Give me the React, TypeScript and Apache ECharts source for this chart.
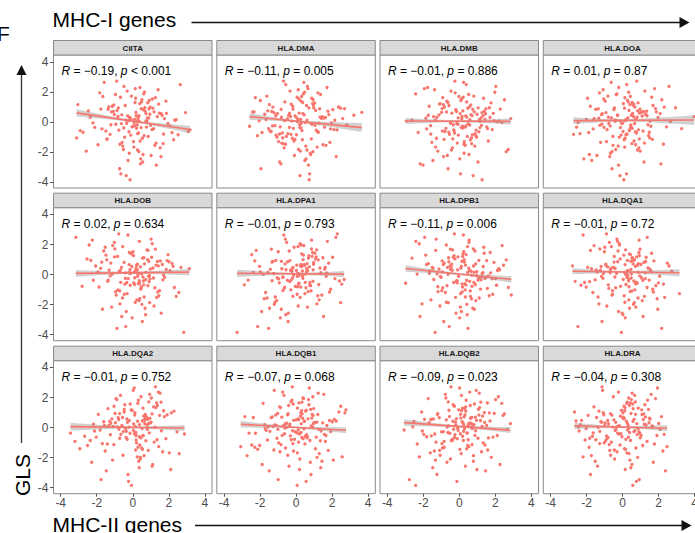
import React, { useEffect, useRef } from "react";
import * as echarts from "echarts";

const FONT = '"Liberation Sans", Arial, Helvetica, sans-serif';

const genes = ["CIITA", "HLA.DMA", "HLA.DMB", "HLA.DOA", "HLA.DOB", "HLA.DPA1", "HLA.DPB1", "HLA.DQA1", "HLA.DQA2", "HLA.DQB1", "HLA.DQB2", "HLA.DRA"];
const rValues = [-0.19, -0.11, -0.01, 0.01, 0.02, -0.01, -0.11, -0.01, -0.01, -0.07, -0.09, -0.04];
const pOps = ["<", "=", "=", "=", "=", "=", "=", "=", "=", "=", "=", "="];
const pValues = ["0.001", "0.005", "0.886", "0.87", "0.634", "0.793", "0.006", "0.72", "0.752", "0.068", "0.023", "0.308"];
const xTicks = [-4, -2, 0, 2, 4];
const yTicks = [-4, -2, 0, 2, 4];

// fitted regression line end points per panel
const fitX0 = [-3.12, -2.58, -2.94, -2.72, -3.16, -3.27, -2.98, -2.78, -3.46, -3.07, -3.06, -2.67];
const fitX1 = [3.18, 3.65, 2.86, 3.97, 3.14, 2.67, 2.89, 3.16, 2.87, 2.77, 2.84, 2.47];
const fitY0 = [0.6, 0.35, 0.06, 0.08, 0.08, 0.08, 0.4, 0.22, 0.06, 0.22, 0.33, 0.11];
const fitY1 = [-0.51, -0.38, 0.03, 0.12, 0.16, 0.03, -0.32, 0.12, -0.03, -0.18, -0.17, -0.04];
// confidence band half widths (left end, centre, right end)
const bandLeft = [0.24, 0.22, 0.2, 0.22, 0.22, 0.24, 0.22, 0.2, 0.26, 0.22, 0.22, 0.2];
const bandMid = [0.07, 0.07, 0.07, 0.07, 0.07, 0.07, 0.07, 0.07, 0.07, 0.07, 0.07, 0.07];
const bandRight = [0.24, 0.3, 0.2, 0.32, 0.22, 0.2, 0.22, 0.24, 0.2, 0.2, 0.2, 0.2];

// GLS (shared y values)
const gls = [
  0.42, -1.13, 0.87, -0.25, 1.64, -2.31, 0.08, 0.55, -0.71, 1.12, -0.38, 2.05, -1.56, 0.31, -0.04,
  0.76, -0.92, 1.38, -3.85, 0.19, -0.47, 0.98, -1.84, 0.63, 2.48, -0.16, -1.27, 0.35, 1.71, -0.58,
  -2.67, 0.12, 0.91, -0.83, 1.26, -0.29, 0.47, -1.45, 1.93, 0.02, -0.64, -2.09, 0.71, 1.04, -0.21,
  0.58, -1.02, 2.21, -0.37, 0.26, -3.12, 1.47, -0.11, 0.83, -1.68, 0.39, -0.52, 1.15, -2.46, 0.05,
  1.82, -0.74, 0.14, -1.36, 0.67, 2.63, -0.43, 0.94, -0.88, 0.22, -1.95, 1.33, -0.09, 0.51, -2.88,
  0.36, 1.57, -0.61, -1.19, 0.81, -0.33, 2.14, -1.52, 0.07, 1.09, -0.78, 0.44, -3.46, 0.62, -0.19,
  1.21, -0.97, 0.29, -2.24, 0.73, 1.86, -0.55, -1.41, 0.17, 0.99, -0.27, 2.36, -1.09, 0.48, -1.73,
  0.03, -0.69, 1.42, -2.57, 0.57, -0.12, 0.88, -1.31, 1.69, -0.45, 0.24, -0.86, 2.71, -1.98, 0.66,
  -0.35, 1.18, -1.61, 0.41, -0.07, 1.52, -2.79, 0.93, -0.53, 0.15, 1.97, -1.16, 0.32, -0.81, -3.58,
  0.69, -0.23, 1.29, -1.49, 0.11, 0.85, -2.17, 1.61, -0.66, 0.27, -1.07, 2.29, -0.41, 0.54, -1.87,
];

const xCIITA = [
  0.35, -1.42, 0.91, 0.12, -0.68, 1.57, -0.23, 0.74, 2.18, -1.05, 0.46, -0.31, 1.23, -2.36, 0.08,
  -0.87, 0.63, 1.84, -0.15, 0.29, -1.71, 0.97, -0.52, 0.18, 2.64, -0.94, 0.41, 1.36, -0.07, -2.92,
  0.55, -0.38, 1.12, -1.26, 0.83, 0.02, -0.61, 1.69, -1.83, 0.37, 3.08, -0.19, 0.69, -1.14, 0.25,
  1.48, -0.45, 0.14, -2.11, 0.88, -0.73, 0.51, 1.95, -1.37, 0.06, -0.28, 1.07, -3.05, 0.44, 0.79,
  -0.96, 0.32, 2.41, -0.59, 1.18, -1.58, 0.21, 0.67, -0.11, 1.76, -2.58, 0.49, -0.34, 0.95, 1.31,
  -0.82, 0.16, -1.49, 2.27, 0.58, -0.04, 1.41, -1.93, 0.73, -0.42, 0.27, 1.63, -0.66, 2.93, -1.21,
  0.39, 0.86, -0.17, 1.02, -2.47, 0.61, -0.77, 1.29, 0.1, -1.33, 2.06, -0.49, 0.53, -1.02, 1.52,
  0.23, -2.76, 0.92, -0.26, 1.87, -0.63, 0.47, 0.04, -1.66, 1.16, -0.13, 2.52, -0.89, 0.34, -1.18,
  0.76, 1.44, -0.55, 0.19, -2.21, 1.09, 0.43, -0.8, 3.18, -0.09, 0.65, -1.44, 0.3, 1.71, -0.36,
  -1.08, 0.99, 0.13, -0.71, 2.33, -1.77, 0.57, 1.26, -0.21, 0.81, -3.12, 0.4, -0.5, 1.58, 0.26,
];
const xDMA = [
  -0.42, 0.85, 1.31, -1.17, 0.06, 2.23, -0.64, 0.38, -1.89, 0.97, 0.21, -0.33, 1.66, -0.81, 0.52,
  1.09, -2.14, 0.27, 0.73, -0.48, 1.92, -1.29, 0.14, 3.65, -0.57, 0.89, -0.12, 1.45, -1.62, 0.33,
  -0.91, 0.61, 2.47, -0.28, 1.03, -2.58, 0.45, -0.71, 1.21, 0.08, -1.38, 0.79, 1.77, -0.19, 2.82,
  0.17, -1.06, 0.66, -0.37, 1.54, -1.95, 0.95, 0.29, -0.83, 1.17, -0.05, 2.11, -1.48, 0.56, -0.24,
  1.36, -0.76, 0.11, 1.88, -2.33, 0.43, -0.15, 0.98, -1.11, 2.59, 0.24, -0.62, 1.27, -1.74, 0.69,
  -0.31, 0.87, -1.45, 0.35, 2.04, -0.88, 0.12, 1.49, -2.05, 0.58, -0.45, 3.21, 0.75, -1.23, 0.19,
  0.92, -0.54, 1.63, -0.09, -1.57, 0.41, 1.12, -0.79, 0.26, 2.36, -1.31, 0.63, -0.21, 1.82, -0.66,
  0.07, 1.24, -1.98, 0.49, -0.36, 0.83, 2.69, -0.97, 0.31, -1.52, 1.41, 0.02, -0.69, 0.94, -2.41,
  1.58, -0.27, 0.54, -1.13, 1.97, 0.16, -0.84, 0.71, 2.28, -1.66, 0.47, -0.06, 1.33, -0.92, 0.22,
  -1.35, 1.06, 0.37, -0.58, 2.15, -0.17, 0.81, -2.26, 1.19, 0.04, -0.74, 1.72, 0.28, -1.04, 0.61,
];
const xDMB = [
  0.71, -0.36, 1.48, -1.59, 0.22, -0.87, 1.93, 0.05, -2.28, 0.64, 1.15, -0.46, 0.33, -1.24, 2.37,
  -0.18, 0.92, -0.69, 1.27, 0.14, -1.81, 0.56, 2.72, -0.98, 0.39, -0.07, 1.61, -1.43, 0.81, -0.29,
  1.04, -2.63, 0.47, -0.54, 1.76, 0.18, -1.12, 0.69, -0.23, 2.09, -0.79, 0.27, 1.39, -1.67, 0.58,
  -0.41, 0.96, -1.94, 0.11, 1.21, -0.62, 2.51, -0.14, 0.75, -1.31, 0.36, 1.83, -0.88, 0.03, -2.94,
  0.52, -0.26, 1.11, -1.52, 0.83, 0.24, -0.74, 1.67, -0.05, 2.86, -1.19, 0.41, -0.47, 0.99, -2.01,
  0.16, 1.35, -0.93, 0.62, -0.19, 1.53, -1.37, 0.31, 2.21, -0.57, 0.88, -1.72, 0.07, 1.26, -0.33,
  -1.06, 0.45, 1.71, -0.66, 0.2, -2.42, 0.94, -0.11, 1.43, -0.82, 0.37, 2.03, -1.27, 0.65, -0.38,
  1.17, -0.58, 0.09, -1.46, 1.89, 0.49, -0.95, 0.28, -0.02, 1.57, -1.85, 0.73, -0.24, 2.61, -0.71,
  0.34, -1.09, 0.86, 1.32, -0.49, 0.13, -2.17, 1.05, -0.31, 0.59, 1.98, -0.84, 0.42, -1.58, 0.77,
  -0.15, 1.24, -0.63, 0.26, -1.33, 2.28, 0.54, -0.92, 1.09, -0.06, 0.68, -1.76, 0.19, 1.46, -0.43,
];
const xDOA = [
  -0.28, 0.93, -1.35, 0.47, 1.62, -0.71, 0.16, 2.09, -1.88, 0.58, -0.12, 1.24, -0.53, 0.81, -2.47,
  0.36, 1.45, -0.96, 0.07, 0.72, -1.63, 2.31, -0.38, 1.01, 0.23, -1.15, 0.64, 3.97, -0.81, 0.39,
  1.19, -0.44, 0.11, -2.72, 0.86, 1.57, -0.27, 0.52, -1.28, 2.66, 0.03, -0.67, 1.34, -1.79, 0.45,
  0.94, -0.18, 1.78, -1.03, 0.29, -0.59, 2.18, 0.67, -1.49, 0.12, 1.09, -0.86, 0.41, -2.15, 1.53,
  -0.35, 0.77, 0.18, -1.22, 1.88, -0.63, 0.54, 2.94, -0.08, -1.57, 0.98, 0.31, -0.76, 1.27, -0.22,
  0.61, -1.94, 1.14, 0.09, -0.48, 2.44, -1.08, 0.73, -0.15, 1.69, -2.36, 0.49, 0.22, -0.92, 1.41,
  0.05, -0.54, 1.97, -1.42, 0.84, -0.31, 0.37, 1.21, -2.01, 0.68, -0.69, 2.58, 0.14, -1.17, 0.91,
  -0.41, 1.48, 0.27, -1.71, 0.56, -0.05, 1.83, -0.89, 0.43, 3.28, -1.32, 0.19, 0.79, -0.58, 1.07,
  -2.55, 0.62, -0.24, 1.36, 0.01, -1.04, 2.13, -0.45, 0.88, -1.61, 0.34, 1.66, -0.79, 0.25, -0.14,
  1.16, -1.26, 0.53, 2.27, -0.37, 0.97, -1.84, 0.13, 0.71, -0.62, 1.51, -0.21, 0.44, -1.12, 0.83,
];
const xDOB = [
  0.18, -0.95, 1.37, -0.41, 0.79, -1.68, 0.33, 2.24, -0.14, 0.62, -2.19, 1.08, -0.57, 0.25, 1.71,
  -1.22, 0.46, -0.08, 2.83, -0.76, 0.91, -1.44, 0.14, 1.29, -3.16, 0.57, -0.31, 1.86, -0.99, 0.38,
  0.71, -0.22, 1.53, -1.87, 0.04, 0.96, -0.63, 2.41, -1.11, 0.29, -0.44, 1.18, 0.65, -2.54, 0.11,
  1.42, -0.82, 0.37, -1.36, 2.07, 0.53, -0.19, 0.88, -1.72, 0.23, 3.14, -0.67, 1.05, -0.36, 0.49,
  -1.53, 0.84, 0.07, -0.92, 1.64, -0.27, 0.59, -2.33, 1.23, 0.15, -0.71, 1.96, -1.25, 0.42, -0.03,
  0.97, -1.61, 0.31, 2.56, -0.48, 0.72, -1.02, 1.33, -0.13, 0.55, -2.81, 1.12, -0.39, 0.21, 1.77,
  -0.84, 0.44, -1.31, 0.68, 2.19, -0.56, 0.06, 1.45, -1.93, 0.83, -0.25, 1.02, -0.72, 2.68, 0.35,
  -1.14, 0.61, -0.09, 1.58, -2.06, 0.27, 0.89, -0.47, 1.26, -1.39, 0.16, 2.31, -0.78, 0.51, -0.2,
  1.67, -1.01, 0.39, -1.78, 0.93, 0.02, -0.61, 1.91, -0.33, 0.74, -2.42, 1.39, -0.15, 0.47, -0.88,
  0.26, 1.15, -1.49, 0.63, -0.42, 2.02, -1.17, 0.85, 0.1, -0.69, 1.49, -2.24, 0.36, -0.05, 0.94,
];
const xDPA1 = [
  -0.21, 0.67, -1.29, 0.38, 1.14, -0.82, 0.09, -2.03, 0.76, 1.49, -0.48, 0.22, -1.61, 0.95, -0.13,
  1.81, -0.66, 0.31, -3.27, 0.58, -0.35, 1.23, -1.17, 0.04, 2.21, -0.74, 0.49, -1.43, 0.86, 0.17,
  -0.57, 1.38, -2.29, 0.26, 0.71, -0.96, 1.62, -0.18, 0.43, -1.82, 2.54, 0.12, -0.61, 1.07, -1.05,
  0.33, -0.29, 1.74, -2.66, 0.64, -0.44, 0.92, 0.07, -1.34, 1.28, -0.79, 0.51, 2.03, -1.91, 0.19,
  -0.11, 0.81, -1.56, 1.43, 0.28, -0.68, 2.41, -1.12, 0.55, -0.23, 1.16, -2.46, 0.36, 0.74, -0.87,
  1.59, -0.38, 0.14, -1.69, 0.98, 2.67, -0.52, 0.23, -1.24, 0.69, -0.04, 1.33, -2.13, 0.47, -0.72,
  0.89, 1.92, -0.31, -1.47, 0.61, 0.11, -0.93, 1.21, -1.98, 0.39, 2.16, -0.59, 0.83, -0.16, -1.08,
  0.52, -2.87, 1.04, -0.43, 0.25, 1.67, -0.81, 0.06, -1.37, 0.94, 0.35, -0.64, 2.29, -1.21, 0.45,
  -0.26, 1.12, -1.77, 0.59, 0.16, -0.99, 1.53, -0.34, 0.77, -2.38, 0.29, 1.86, -0.56, 0.08, -1.52,
  0.97, -0.19, 0.41, -1.15, 1.71, -0.47, 0.63, -2.21, 1.26, 0.02, -0.73, 0.86, -1.33, 0.31, 2.47,
];
const xDPB1 = [
  0.53, -1.18, 0.26, 1.42, -0.37, 0.84, -1.66, 0.12, 2.07, -0.59, 0.41, -2.22, 1.11, -0.09, 0.69,
  -0.83, 1.56, 0.21, -1.34, 0.97, -0.16, 2.61, -0.71, 0.35, -1.92, 1.24, 0.07, -0.48, 0.78, -2.98,
  0.44, 1.31, -0.95, 0.18, -0.29, 1.83, -1.49, 0.62, 2.38, -0.62, 0.15, -1.07, 0.91, -0.24, 1.47,
  -0.51, 0.33, -2.41, 1.04, 0.57, -0.86, 1.72, -0.04, 0.29, -1.57, 2.19, 0.81, -0.33, 0.12, -1.23,
  1.36, -0.68, 0.47, 2.89, -1.81, 0.23, -0.14, 1.09, -0.92, 0.66, -2.07, 0.38, 1.61, -0.45, 0.02,
  -1.12, 0.87, 0.31, -0.77, 1.93, -1.41, 0.54, -0.21, 1.27, -2.62, 0.71, 0.09, -0.56, 2.46, -1.01,
  0.19, 1.18, -0.39, 0.75, -1.71, 0.46, -0.11, 1.66, -0.94, 0.27, 2.02, -1.28, 0.61, -0.65, 0.92,
  -2.34, 0.37, 1.39, -0.18, 0.79, -1.05, 0.14, 1.86, -0.49, 0.58, -1.63, 2.73, -0.27, 0.42, -0.88,
  1.21, -0.07, 0.68, -1.46, 0.96, 0.25, -2.18, 1.52, -0.31, 0.83, -0.72, 0.16, 2.24, -1.19, 0.49,
  -0.42, 1.07, -1.86, 0.34, 1.74, -0.58, 0.06, -1.31, 0.89, 2.12, -0.97, 0.55, -0.13, 1.33, -0.61,
];
const xDQA1 = [
  -0.64, 0.42, 1.28, -1.09, 0.17, 1.96, -0.33, 0.71, -2.31, 0.55, 1.13, -0.18, 0.86, -1.47, 0.29,
  2.49, -0.76, 0.38, -0.06, 1.59, -1.83, 0.64, 0.13, -0.94, 1.37, -0.42, 3.16, 0.47, -1.26, 0.81,
  0.02, -0.69, 1.74, -2.02, 0.93, 0.34, -0.51, 1.21, -1.58, 0.17, 2.27, -0.87, 0.59, -0.13, 1.05,
  -2.78, 0.68, -0.28, 1.48, 0.26, -1.14, 0.91, 2.06, -0.47, 0.35, -1.72, 0.77, 1.31, -0.22, 0.49,
  -0.99, 1.85, 0.11, -0.59, 1.02, -2.19, 0.63, 0.27, -0.38, 2.73, -1.31, 0.44, 0.96, -0.83, 0.15,
  1.52, -0.25, 0.72, -1.65, 1.18, 0.04, -0.73, 2.34, -1.06, 0.53, -0.11, 1.41, -2.48, 0.83, 0.24,
  -0.46, 1.67, -1.23, 0.39, 0.88, -0.62, 1.99, 0.09, -1.41, 0.66, 1.26, -0.31, 0.51, -1.94, 1.09,
  0.21, -0.79, 1.61, -0.02, 2.58, -1.17, 0.46, -0.55, 0.97, -2.63, 0.32, 1.36, -0.89, 0.61, 0.14,
  -1.52, 0.78, 1.92, -0.41, 0.28, -1.01, 1.14, 0.57, -2.11, 0.87, -0.17, 1.71, -0.68, 0.36, 2.17,
  -0.93, 0.48, 0.07, -1.36, 1.27, -0.27, 0.74, -1.78, 0.19, 1.55, -0.56, 0.92, 0.33, -1.19, 0.65,
];
const xDQA2 = [
  0.27, -1.05, 0.69, -0.36, 1.32, -2.28, 0.14, 0.83, -0.72, 1.71, -0.15, 0.46, -1.53, 0.98, -0.41,
  0.61, -3.21, 1.16, -0.07, 0.38, -1.24, 2.14, -0.54, 0.71, 0.03, -1.81, 1.44, -0.29, 0.89, -2.67,
  0.36, -0.61, 1.07, 0.19, -1.38, 2.46, -0.19, 0.54, -0.93, 1.23, -2.03, 0.42, 0.76, -0.48, 1.59,
  -1.16, 0.21, 0.94, -3.46, 0.66, -0.26, 1.37, -0.77, 0.11, 2.03, -1.61, 0.57, -0.03, 1.11, -0.85,
  0.31, 1.84, -1.33, 0.49, -0.57, 0.08, 2.87, -0.98, 0.73, -2.18, 0.25, 1.28, -0.39, 0.62, -1.47,
  1.02, -0.14, 0.37, -2.51, 1.49, 0.17, -0.68, 0.86, -1.08, 2.29, -0.31, 0.53, -1.76, 0.95, 0.04,
  -0.47, 1.19, -1.22, 0.33, 1.76, -0.88, 0.58, -2.94, 0.79, 0.12, -0.53, 1.42, -1.41, 0.67, 2.58,
  -0.21, 0.45, -1.04, 1.08, -0.33, 0.81, -1.91, 0.29, 1.57, -0.66, 0.05, -2.36, 1.26, 0.43, -0.81,
  0.92, -0.09, 1.66, -1.28, 0.52, -0.44, 2.11, -0.73, 0.18, -1.57, 1.03, 0.39, -0.96, 1.35, -0.23,
  0.74, -2.12, 0.57, 0.16, -0.59, 1.91, -1.12, 0.28, -0.37, 0.88, -1.69, 1.52, 0.09, -0.78, 0.63,
];
const xDQB1 = [
  0.47, -0.83, 1.21, -1.45, 0.16, 0.79, -0.37, 2.12, -1.06, 0.31, -2.25, 0.93, -0.14, 1.48, -0.62,
  0.24, 1.63, -0.91, 0.06, -1.74, 0.58, 2.71, -0.46, 0.87, -1.21, 0.12, -3.07, 1.03, -0.28, 0.51,
  1.37, -0.71, 0.34, -1.59, 0.98, -0.04, 1.86, -2.13, 0.42, -0.53, 1.12, 0.21, -1.32, 2.38, -0.19,
  0.66, -0.96, 1.54, -2.61, 0.29, 0.83, -0.41, 1.26, -1.13, 0.07, 2.01, -0.77, 0.57, -1.88, 0.92,
  -0.23, 0.39, 1.71, -0.58, -2.37, 0.74, 0.18, -1.02, 1.35, -0.34, 2.56, -0.86, 0.44, 0.01, -1.49,
  1.16, -0.16, 0.63, -2.02, 0.95, 0.28, -0.67, 1.79, -1.27, 0.53, -0.09, 2.23, -0.99, 0.37, -1.66,
  0.81, 0.14, -0.52, 1.44, -2.84, 0.69, -0.31, 1.08, -1.18, 0.26, 1.92, -0.74, 0.49, -0.13, 1.29,
  -1.54, 0.61, 2.48, -0.39, 0.11, -1.01, 0.89, -2.29, 0.33, 1.57, -0.61, 0.77, -0.21, 1.17, -1.38,
  0.04, 2.77, -0.89, 0.46, -1.71, 0.72, 0.19, -0.44, 1.66, -1.09, 0.38, -2.46, 1.01, -0.27, 0.56,
  -0.79, 1.39, 0.08, -1.23, 0.84, -0.47, 2.07, -1.83, 0.32, 0.96, -0.18, 1.23, -0.64, 0.15, -2.72,
];
const xDQB2 = [
  -0.35, 0.71, -1.21, 0.24, 1.56, -0.68, 0.47, -1.93, 1.04, 0.13, -0.52, 2.17, -1.38, 0.59, -0.09,
  1.29, -0.84, 0.36, -2.42, 0.82, -0.24, 1.67, -1.06, 0.08, 0.94, -3.06, 0.53, 1.41, -0.61, 0.19,
  -1.47, 0.76, 2.51, -0.37, 0.31, -0.98, 1.18, 0.04, -1.72, 0.66, 1.87, -0.49, 0.27, -2.09, 0.91,
  -0.16, 1.33, -0.77, 0.44, 2.84, -1.24, 0.61, -0.31, 1.09, -1.61, 0.16, 0.87, -0.57, 2.26, -2.58,
  0.38, -0.11, 1.52, -0.93, 0.69, 0.02, -1.36, 1.94, -0.44, 0.51, -2.21, 1.13, 0.29, -0.72, 1.46,
  -0.21, 0.84, -1.81, 0.47, 2.43, -0.63, 0.12, -1.09, 1.27, 0.36, -0.39, 1.71, -2.77, 0.63, -0.06,
  1.06, -1.29, 0.22, 0.78, -0.54, 2.02, -1.55, 0.41, -0.19, 1.39, -0.88, 0.58, -2.33, 0.96, 0.11,
  -0.67, 1.62, -0.27, 0.34, -1.44, 2.67, 0.07, -0.83, 1.19, -1.97, 0.54, 0.23, -0.46, 1.78, -1.11,
  0.43, -0.03, 1.24, -2.52, 0.73, -0.34, 0.98, -1.19, 2.11, 0.26, -0.74, 1.43, -1.67, 0.49, -0.13,
  0.89, -2.05, 0.18, 1.58, -0.59, 0.32, -1.32, 2.36, -0.26, 0.67, -0.96, 1.11, 0.06, -1.58, 0.79,
];
const xDRA = [
  0.21, -0.74, 1.08, -1.26, 0.43, 1.71, -0.29, 0.64, -1.82, 0.12, 0.96, -0.51, 2.24, -0.97, 0.35,
  -0.12, 1.36, -1.59, 0.57, -2.34, 0.81, 0.02, -0.66, 1.49, -1.11, 0.28, 2.47, -0.38, 0.71, -1.67,
  0.46, -0.18, 1.17, -2.08, 0.59, 0.91, -0.82, 0.17, 1.83, -1.35, 0.33, -0.44, 1.27, -2.67, 0.68,
  0.06, -1.02, 1.59, -0.27, 0.79, -1.78, 0.38, 2.09, -0.59, 0.24, -1.21, 1.03, -0.06, 0.52, -2.45,
  1.39, -0.87, 0.31, 0.74, -1.44, 1.94, -0.21, 0.47, -0.94, 1.21, -2.19, 0.14, 0.86, -0.48, 2.38,
  -1.16, 0.56, -0.03, 1.12, -1.91, 0.39, 0.67, -0.71, 1.68, -1.31, 0.19, -2.58, 0.93, 0.09, -0.41,
  1.44, -0.62, 0.27, -1.52, 2.16, 0.49, -0.89, 0.11, 1.31, -1.07, 0.63, -0.23, 1.77, -2.27, 0.36,
  -0.54, 0.98, 0.08, -1.39, 1.53, -0.36, 0.72, -1.86, 0.26, 2.31, -0.78, 0.44, -1.14, 0.84, 0.01,
  -1.63, 1.06, -0.31, 0.58, -2.02, 1.24, 0.15, -0.67, 1.91, -0.99, 0.34, -0.14, 1.47, -1.48, 0.77,
  0.04, -2.41, 0.87, -0.46, 1.63, -1.04, 0.41, 0.23, -0.81, 2.01, -1.27, 0.53, -0.09, 1.15, -1.73,
];
const xByPanel = [xCIITA, xDMA, xDMB, xDOA, xDOB, xDPA1, xDPB1, xDQA1, xDQA2, xDQB1, xDQB2, xDRA];

// layout
const colLeft = [53.5, 216.8, 380, 543.3];
const rowTop = [55, 207.7, 360.7];
const panelW = 158.5;
const panelH = 133;
const stripH = 14.5;
const X_MIN = -4.4, X_MAX = 4.4, Y_MIN = -4.4, Y_MAX = 4.45;

const POINT = "#F8766D";

function fmtR(v: number) {
  return (v < 0 ? "\u2212" : "") + Math.abs(v).toFixed(2);
}

function bandPoints(i: number): number[][] {
  const x0 = fitX0[i], x1 = fitX1[i], y0 = fitY0[i], y1 = fitY1[i];
  const lineY = (x: number) => y0 + ((y1 - y0) * (x - x0)) / (x1 - x0);
  const hw = (x: number) => {
    const hm = bandMid[i];
    if (x < 0) {
      const he = bandLeft[i];
      return Math.sqrt(hm * hm + (he * he - hm * hm) * (x / x0) * (x / x0));
    }
    const he = bandRight[i];
    return Math.sqrt(hm * hm + (he * he - hm * hm) * (x / x1) * (x / x1));
  };
  const n = 12;
  const upper: number[][] = [];
  const lower: number[][] = [];
  for (let k = 0; k <= n; k++) {
    const x = x0 + ((x1 - x0) * k) / n;
    upper.push([x, lineY(x) + hw(x)]);
    lower.push([x, lineY(x) - hw(x)]);
  }
  return upper.concat(lower.reverse());
}

function buildOption(): any {
  const grids: any[] = [];
  const xAxes: any[] = [];
  const yAxes: any[] = [];
  const series: any[] = [];
  const graphics: any[] = [];

  genes.forEach((g, i) => {
    const r = Math.floor(i / 4);
    const c = i % 4;
    const left = colLeft[c];
    const top = rowTop[r];
    grids.push({
      left, top, width: panelW, height: panelH,
      show: true, borderColor: "#8a8a8a", borderWidth: 1, backgroundColor: "#ffffff",
      containLabel: false, outerBoundsMode: "none",
    });
    xAxes.push({
      type: "value", gridIndex: i, min: X_MIN, max: X_MAX, position: "bottom",
      splitLine: { show: false }, axisLine: { show: false, onZero: false },
      axisTick: { show: r === 2, length: 3, lineStyle: { color: "#555" }, customValues: xTicks },
      axisLabel: { show: r === 2, customValues: xTicks, color: "#4d4d4d", fontSize: 12, fontFamily: FONT, margin: 3, formatter: (v: number) => String(v) },
    });
    yAxes.push({
      type: "value", gridIndex: i, min: Y_MIN, max: Y_MAX, position: "left",
      splitLine: { show: false }, axisLine: { show: false, onZero: false },
      axisTick: { show: c === 0, length: 3.5, lineStyle: { color: "#555" }, customValues: yTicks },
      axisLabel: { show: c === 0, customValues: yTicks, color: "#4d4d4d", fontSize: 12, fontFamily: FONT, margin: 5, formatter: (v: number) => String(v) },
    });
    const xs = xByPanel[i];
    const n = Math.min(xs.length, gls.length);
    const pts: number[][] = [];
    for (let k = 0; k < n; k++) pts.push([xs[k], gls[k]]);
    series.push({
      type: "scatter", xAxisIndex: i, yAxisIndex: i, data: pts, symbolSize: 3.3,
      itemStyle: { color: POINT, opacity: 1 }, silent: true, z: 2,
    });
    const band = bandPoints(i);
    series.push({
      type: "custom", xAxisIndex: i, yAxisIndex: i, data: [[fitX0[i], fitY0[i]]], silent: true, z: 3,
      renderItem: (_p: any, api: any) => ({
        type: "polygon",
        shape: { points: band.map((p) => api.coord(p)) },
        style: { fill: "rgba(153,153,153,0.45)" },
      }),
    });
    series.push({
      type: "line", xAxisIndex: i, yAxisIndex: i,
      data: [[fitX0[i], fitY0[i]], [fitX1[i], fitY1[i]]],
      symbol: "none", lineStyle: { color: POINT, width: 1.6 }, silent: true, z: 4,
    });

    // strip
    graphics.push({
      type: "rect", shape: { x: left, y: top - stripH, width: panelW, height: stripH },
      style: { fill: "#d9d9d9", stroke: "#8a8a8a", lineWidth: 1 }, z: 10,
    });
    graphics.push({
      type: "text", x: left + panelW / 2, y: top - stripH / 2 + 0.5,
      style: { text: g, fontSize: 8, fontWeight: "bold", fontFamily: FONT, fill: "#1a1a1a", align: "center", verticalAlign: "middle" }, z: 11,
    });
    // correlation label
    const base = { fontSize: 12, fontFamily: FONT, fill: "#000" };
    graphics.push({
      type: "text", x: left + 8, y: top + 16,
      style: {
        text: `{i|R}{n| = ${fmtR(rValues[i])}, }{i|p}{n| ${pOps[i]} ${pValues[i]}}`,
        rich: { i: { ...base, fontStyle: "italic" }, n: { ...base } },
        ...base, align: "left", verticalAlign: "middle",
      }, z: 12,
    });
  });

  const titleFont = { fontSize: 21, fontFamily: FONT, fill: "#000" };
  graphics.push({ type: "text", x: -3, y: 33.5, style: { text: "F", ...titleFont, align: "left", verticalAlign: "middle" } });
  graphics.push({ type: "text", x: 52.5, y: 19, style: { text: "MHC-I genes", ...titleFont, align: "left", verticalAlign: "middle" } });
  graphics.push({ type: "text", x: 52.5, y: 524, style: { text: "MHC-II genes", ...titleFont, align: "left", verticalAlign: "middle" } });
  graphics.push({ type: "text", x: 22.5, y: 475, rotation: Math.PI / 2, style: { text: "GLS", ...titleFont, align: "center", verticalAlign: "middle" } });

  // arrows
  const arrowStroke = { stroke: "#111", lineWidth: 1.3 };
  graphics.push({ type: "line", shape: { x1: 191.5, y1: 22.5, x2: 681, y2: 22.5 }, style: arrowStroke });
  graphics.push({ type: "polygon", shape: { points: [[679.5, 17], [689.5, 22.5], [679.5, 28]] }, style: { fill: "#111" } });
  graphics.push({ type: "line", shape: { x1: 195, y1: 525.5, x2: 683, y2: 525.5 }, style: arrowStroke });
  graphics.push({ type: "polygon", shape: { points: [[681.5, 520], [691.5, 525.5], [681.5, 531]] }, style: { fill: "#111" } });
  graphics.push({ type: "line", shape: { x1: 21.5, y1: 443, x2: 21.5, y2: 74 }, style: { stroke: "#333", lineWidth: 1.3 } });
  graphics.push({ type: "polygon", shape: { points: [[16.5, 75], [21.5, 65], [26.5, 75]] }, style: { fill: "#111" } });

  return {
    animation: false,
    backgroundColor: "#ffffff",
    textStyle: { fontFamily: FONT },
    grid: grids,
    xAxis: xAxes,
    yAxis: yAxes,
    series,
    graphic: { elements: graphics },
  };
}

export default function App() {
  const ref = useRef<HTMLDivElement>(null);
  useEffect(() => {
    if (!ref.current) return;
    const chart = echarts.init(ref.current, null, { renderer: "svg" });
    chart.setOption(buildOption());
    return () => chart.dispose();
  }, []);
  return (
    <div
      ref={ref}
      style={{ position: "absolute", left: 0, top: 0, width: 695, height: 533, background: "#fff" }}
    />
  );
}
